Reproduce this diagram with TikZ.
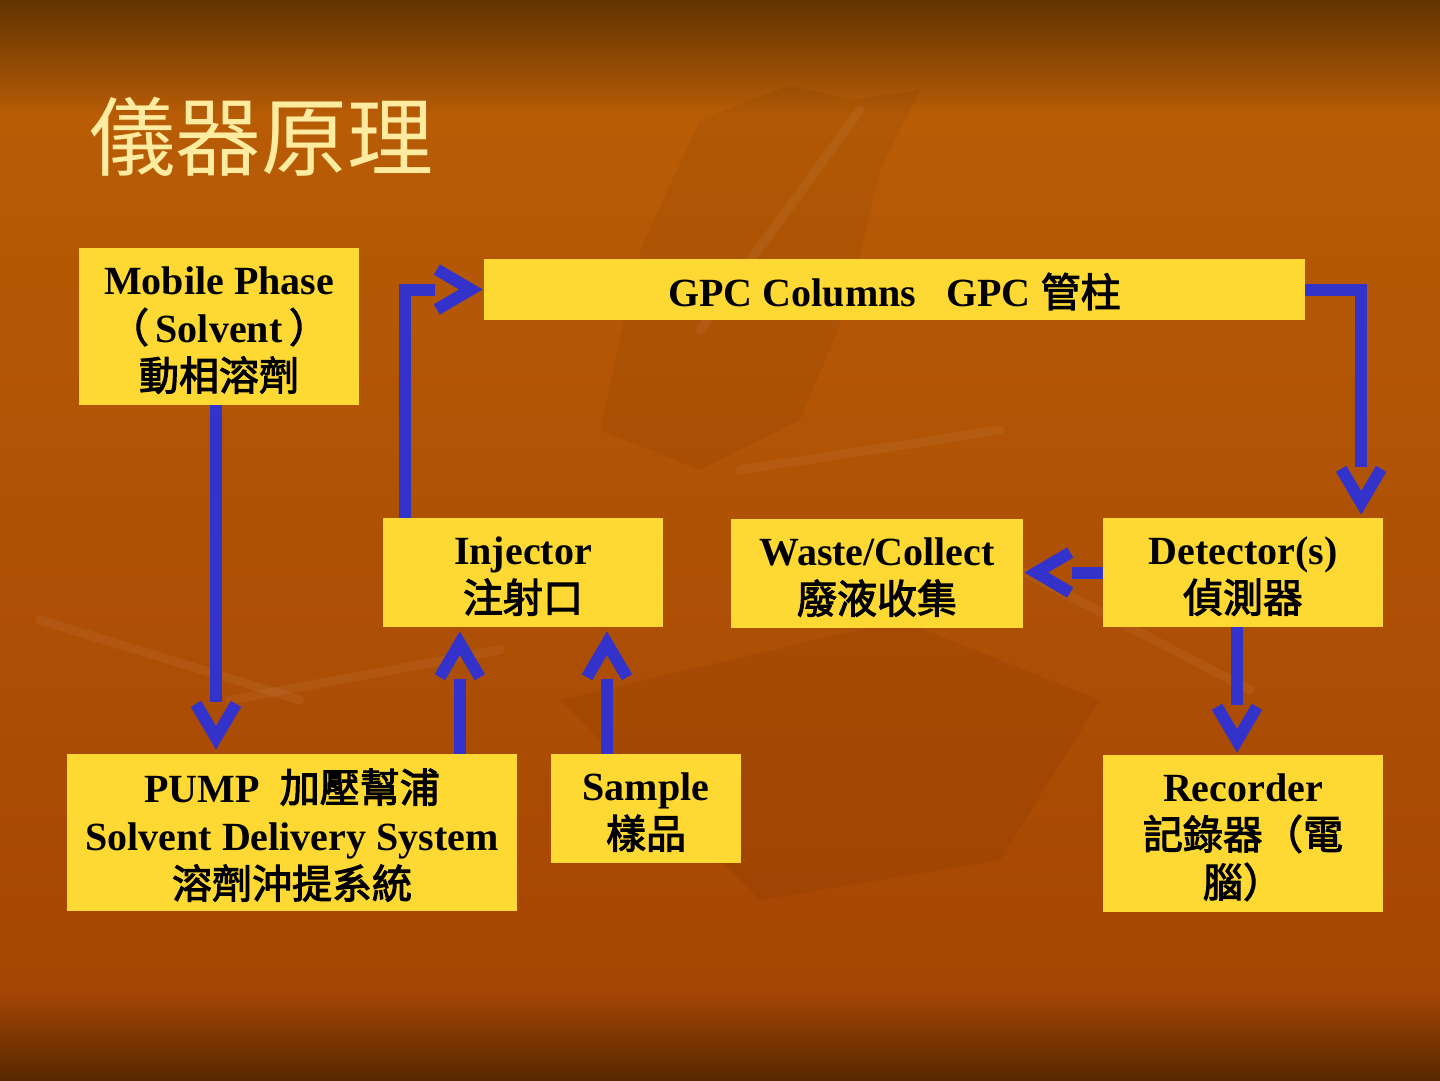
\documentclass[tikz,border=0pt]{standalone}
\usepackage{fontspec}
\setmainfont{Liberation Serif}
\newfontfamily\cjk[BoldFont={Noto Sans CJK TC}, BoldFeatures={FakeBold=2.6}]{Noto Sans CJK TC}
\definecolor{boxy}{RGB}{255,217,51}
\definecolor{arrowb}{RGB}{51,51,204}
\definecolor{titley}{RGB}{255,236,160}
\definecolor{bgtop}{RGB}{96,52,0}
\definecolor{bgor}{RGB}{184,92,6}
\definecolor{bgmid}{RGB}{166,70,4}
\definecolor{bgend}{RGB}{88,40,0}
\newcommand\vtip[2]{\draw[headst, shift={(#1)}, rotate=#2] (-45,-20) -- (-11,0) -- (-45,20);}
\newcommand\topstrut[1]{\rule{0pt}{#1pt}}
\begin{document}
\begin{tikzpicture}[x=1pt,y=-1pt,
  box/.style={fill=boxy, inner sep=0pt, align=center, text=black,
    font=\bfseries\fontsize{40}{48}\selectfont},
  shaft/.style={draw=arrowb, line width=12pt, line join=miter, line cap=butt},
  headst/.style={draw=arrowb, line width=12pt, line join=miter, line cap=butt},
  darkleaf/.style={fill=black, fill opacity=0.045, draw=none},
  lightvein/.style={draw=white, opacity=0.05, line width=9pt, line cap=round}]
\useasboundingbox (0,0) rectangle (1440,1080);
% background
\fill[bgmid] (0,0) rectangle (1440,1080);
\shade[top color=bgtop, bottom color=bgor] (0,0) rectangle (1440,115);
\shade[top color=bgor, bottom color=bgmid] (0,115) rectangle (1440,990);
\shade[top color=bgmid, bottom color=bgend] (0,990) rectangle (1440,1080);
\fill[darkleaf] (600,430) -- (640,250) -- (700,120) -- (790,85) -- (850,100) -- (920,90) -- (880,170) -- (850,300) -- (800,420) -- (700,470) -- cycle;
\fill[darkleaf] (560,700) -- (900,620) -- (1100,700) -- (1000,860) -- (760,900) -- cycle;
\draw[lightvein] (40,620) -- (300,700);
\draw[lightvein] (230,700) -- (500,650);
\draw[lightvein] (1020,570) -- (1250,690);
\draw[lightvein] (740,470) -- (1000,430);
\draw[lightvein] (860,110) -- (700,330);
% title
\node[anchor=west, text=titley, inner sep=0pt, font=\cjk\fontsize{86}{90}\selectfont] (title) at (89,137) {儀器原理};
% boxes
\node[box, minimum width=280pt, minimum height=157pt] (mob) at (219,326.5) {\topstrut{35}Mobile Phase\\{\cjk （}\,Solvent\,{\cjk ）}\\{\cjk 動相溶劑}};
\node[box, minimum width=821pt, minimum height=61pt] (gpc) at (894.5,289.5) {\topstrut{38}GPC Columns\ \ \ GPC {\cjk 管柱}};
\node[box, minimum width=280pt, minimum height=109pt] (inj) at (523,572.5) {\topstrut{35}Injector\\{\cjk 注射口}};
\node[box, minimum width=292pt, minimum height=109pt] (waste) at (877,573.5) {\topstrut{35}Waste/Collect\\{\cjk 廢液收集}};
\node[box, minimum width=280pt, minimum height=109pt] (det) at (1243,572.5) {\topstrut{35}Detector(s)\\{\cjk 偵測器}};
\node[box, minimum width=450pt, minimum height=157pt] (pump) at (292,832.5) {\topstrut{39}PUMP\ \ {\cjk 加壓幫浦}\\Solvent Delivery System\\{\cjk 溶劑沖提系統}};
\node[box, minimum width=190pt, minimum height=109pt] (sample) at (646,808.5) {\topstrut{35}Sample\\{\cjk 樣品}};
\node[box, minimum width=280pt, minimum height=157pt] (rec) at (1243,833.5) {\topstrut{35}Recorder\\{\cjk 記錄器（電}\\{\cjk 腦）}};
% arrow 1: mobile phase -> pump
\coordinate (s1) at ([shift={(-3,0)}]mob.south);
\coordinate (p1) at (s1 |- pump.north);
\coordinate (t1) at ([shift={(0,-5)}]p1);
\draw[shaft] (s1) -- ([shift={(0,-47)}]t1);
\vtip{t1}{-90}
% arrow 2: injector -> gpc columns
\coordinate (s2) at ([shift={(22,0)}]inj.north west);
\coordinate (t2) at ([shift={(-2,0)}]gpc.west);
\draw[shaft] (s2) |- ([shift={(-47,0)}]t2);
\vtip{t2}{0}
% arrow 3: gpc columns -> detector
\coordinate (t3) at ([shift={(-22,-4)}]det.north east);
\draw[shaft] (gpc.east) -| ([shift={(0,-47)}]t3);
\vtip{t3}{-90}
% arrow 4: detector -> waste
\coordinate (p4) at (waste.east |- det.west);
\coordinate (t4) at ([shift={(2,0)}]p4);
\draw[shaft] (det.west) -- ([shift={(47,0)}]t4);
\vtip{t4}{180}
% arrow 5: detector -> recorder
\coordinate (t5) at ([shift={(-6,-3)}]rec.north);
\coordinate (s5) at (t5 |- det.south);
\draw[shaft] (s5) -- ([shift={(0,-47)}]t5);
\vtip{t5}{-90}
% arrow 6: pump -> injector
\coordinate (t6) at ([shift={(77,5)}]inj.south west);
\coordinate (s6) at (t6 |- pump.north);
\draw[shaft] (s6) -- ([shift={(0,47)}]t6);
\vtip{t6}{90}
% arrow 7: sample -> injector
\coordinate (s7) at ([shift={(-39,0)}]sample.north);
\coordinate (p7) at (s7 |- inj.south);
\coordinate (t7) at ([shift={(0,5)}]p7);
\draw[shaft] (s7) -- ([shift={(0,47)}]t7);
\vtip{t7}{90}
\end{tikzpicture}
\end{document}
